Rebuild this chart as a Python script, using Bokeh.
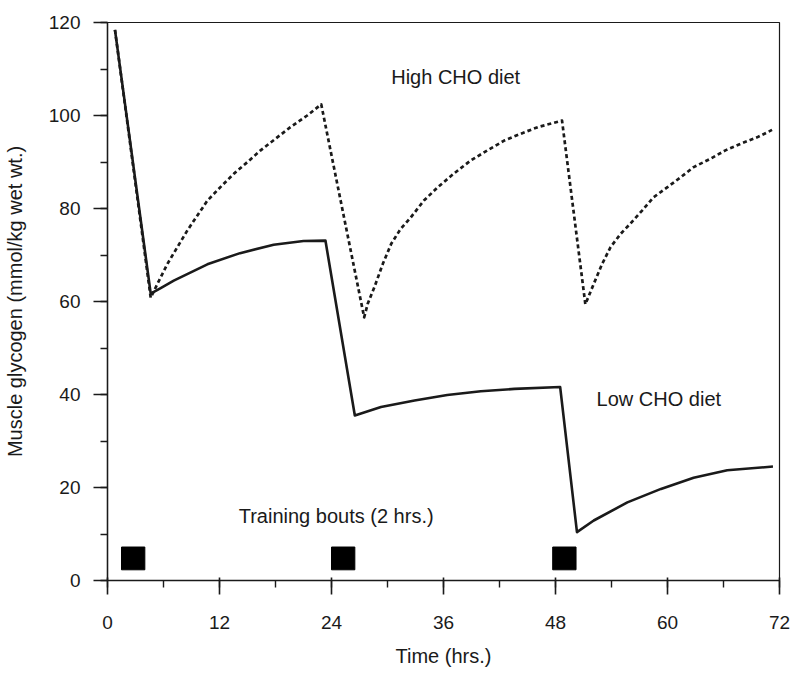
from bokeh.plotting import figure
from bokeh.models import Range1d, SingleIntervalTicker, ColumnDataSource
from bokeh.embed import file_html
from bokeh.resources import INLINE
from bokeh.core.properties import value

# ---- data ----
hours_low = [0.8, 4.63, 5.7, 7.1, 10.7, 14.2, 17.8, 21.0, 23.35,
             26.5, 29.3, 32.9, 36.4, 40.0, 43.6, 48.5,
             50.3, 52.1, 55.7, 59.3, 62.8, 66.4, 71.3]
glycogen_low = [118.4, 61.7, 62.9, 64.5, 68.0, 70.4, 72.2, 73.0, 73.1,
                35.5, 37.3, 38.7, 39.9, 40.7, 41.2, 41.6,
                10.4, 12.9, 16.8, 19.7, 22.1, 23.7, 24.5]

hours_high = [0.8, 4.63, 5.35, 6.42, 7.49, 8.56, 9.63, 10.7, 12.1, 13.55,
              15.0, 16.4, 18.0, 19.6, 21.4, 22.9,
              27.5, 27.88, 28.6, 29.5, 30.4, 31.4, 32.5, 33.9, 35.4, 37.1,
              38.9, 40.7, 42.5, 44.3, 46.1, 48.7,
              51.2, 52.1, 53.0, 53.9, 55.0, 56.0, 57.3, 58.5, 60.0, 61.4,
              62.8, 64.6, 66.2, 67.8, 69.6, 71.2]
glycogen_high = [118.4, 60.8, 63.8, 68.1, 71.7, 75.3, 78.5, 81.7, 84.6, 87.5,
                 90.0, 92.5, 95.0, 97.5, 100.0, 102.4,
                 56.6, 59.5, 63.1, 68.1, 72.4, 75.6, 78.1, 81.7, 84.6, 87.5,
                 90.3, 92.5, 94.6, 96.1, 97.5, 98.9,
                 59.4, 63.8, 68.1, 71.7, 74.6, 76.7, 79.6, 82.4, 84.6, 86.7,
                 88.9, 90.7, 92.5, 93.9, 95.3, 96.9]

bout_start = [1.5, 24.0, 47.7]
bout_end = [4.0, 26.5, 50.2]

annot_text = ["High CHO diet", "Low CHO diet", "Training bouts (2 hrs.)"]
annot_x = [30.4, 52.4, 14.06]
annot_y = [108.2, 39.1, 13.8]

x_label = "Time (hrs.)"
y_label = "Muscle glycogen (mmol/kg wet wt.)"

FONT = "Liberation Sans"
INK = "#1a1a1a"

p = figure(width=790, height=675, output_backend="svg", toolbar_location=None,
           x_range=Range1d(0, 72), y_range=Range1d(0, 120),
           min_border_left=106, min_border_right=11, min_border_top=22,
           min_border_bottom=95)
p.xgrid.visible = False
p.ygrid.visible = False
p.outline_line_color = INK
p.outline_line_width = 1.2
p.background_fill_color = "white"
p.border_fill_color = "white"

# curves
p.line(hours_high, glycogen_high, line_color=INK, line_width=2.7,
       line_dash="4 3", line_join="round")
p.line(hours_low, glycogen_low, line_color=INK, line_width=2.6, line_join="round")

# training bouts
src_b = ColumnDataSource(dict(left=bout_start, right=bout_end,
                              bottom=[2.3] * len(bout_start), top=[7.2] * len(bout_start)))
p.quad(left="left", right="right", bottom="bottom", top="top", source=src_b,
       fill_color="black", line_color="black")

# annotations
p.text(x=annot_x, y=annot_y, text=annot_text, text_font=value(FONT),
       text_font_size="20px", text_color=INK, text_align="left",
       text_baseline="middle")

# axes
xa = p.xaxis[0]
xa.ticker = SingleIntervalTicker(interval=12, num_minor_ticks=2)
ya = p.yaxis[0]
ya.ticker = SingleIntervalTicker(interval=20, num_minor_ticks=2)
for ax in (xa, ya):
    ax.axis_line_color = INK
    ax.axis_line_width = 1.4
    ax.major_tick_line_color = INK
    ax.major_tick_line_width = 1.6
    ax.minor_tick_line_color = INK
    ax.minor_tick_line_width = 1.4
    ax.major_tick_out = 14
    ax.minor_tick_out = 7
    ax.minor_tick_in = 0
    ax.major_label_text_font = FONT
    ax.major_label_text_font_size = "19px"
    ax.major_label_text_color = INK
    ax.axis_label_text_font = FONT
    ax.axis_label_text_font_size = "20px"
    ax.axis_label_text_font_style = "normal"
    ax.axis_label_text_color = INK
xa.major_tick_in = 3
ya.major_tick_in = 0
xa.major_label_standoff = 21
ya.major_label_standoff = 13
xa.axis_label = x_label
ya.axis_label = y_label
xa.axis_label_standoff = 13
ya.axis_label_standoff = 20

open("out.html", "w").write(file_html(p, INLINE))
